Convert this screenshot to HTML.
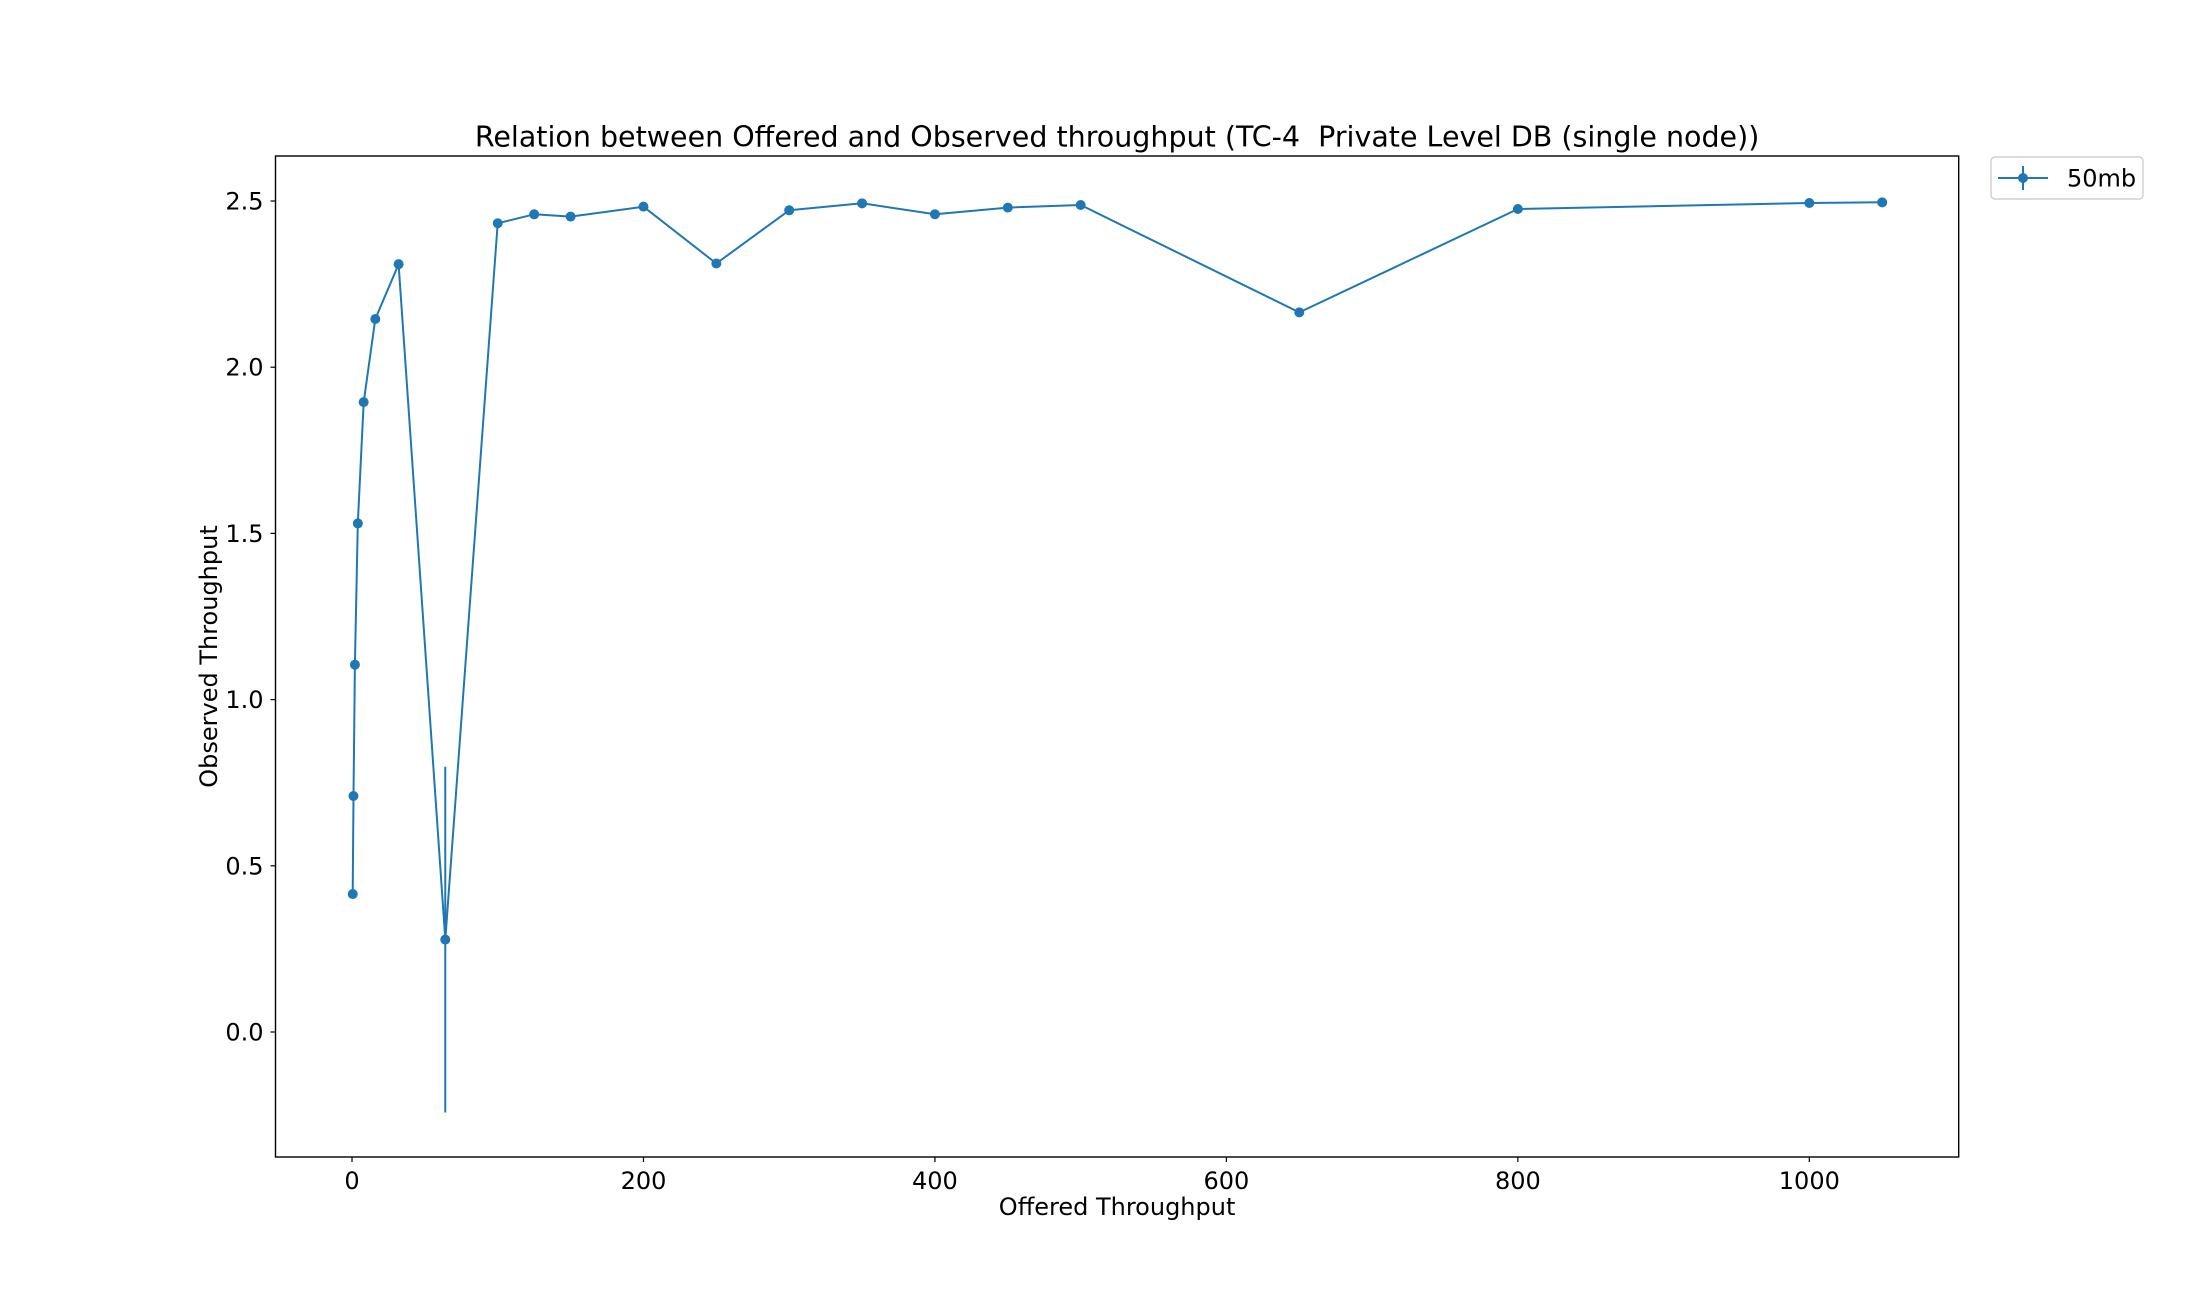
<!DOCTYPE html>
<html><head><meta charset="utf-8"><style>
html,body{margin:0;padding:0;background:#fff;}
svg{display:block;font-family:"DejaVu Sans","Liberation Sans",sans-serif;}
</style></head><body>
<svg id="chart" width="2200" height="1300" viewBox="0 0 2200 1300">
<rect x="0" y="0" width="2200" height="1300" fill="#fff"/>
<g id="plot"></g>
</svg>
<script>
const xValues = [0.5, 1, 2, 4, 8, 16, 32, 64, 100, 125, 150, 200, 250, 300, 350, 400, 450, 500, 650, 800, 1000, 1050];
const yValues = [0.415, 0.71, 1.105, 1.53, 1.895, 2.145, 2.31, 0.278, 2.433, 2.46, 2.453, 2.483, 2.312, 2.472, 2.493, 2.46, 2.48, 2.488, 2.165, 2.476, 2.494, 2.496];
const yErrors = [0, 0, 0, 0, 0, 0, 0, 0.52, 0, 0, 0, 0, 0, 0, 0, 0, 0, 0, 0, 0, 0, 0];
const xTicks = [0, 200, 400, 600, 800, 1000];
const yTicks = [0.0, 0.5, 1.0, 1.5, 2.0, 2.5];
const yTickLabels = ["0.0", "0.5", "1.0", "1.5", "2.0", "2.5"];

const AX = {l: 275.5, r: 1958.7, t: 156, b: 1157};
const XMIN = -52.5, XMAX = 1102.5;
const Y0PX = 1032, Y25PX = 201;
function sx(v){ return AX.l + (v - XMIN) / (XMAX - XMIN) * (AX.r - AX.l); }
function sy(v){ return Y0PX + (Y25PX - Y0PX) * v / 2.5; }

const NS = "http://www.w3.org/2000/svg";
const g = document.getElementById('plot');
function mk(tag, attrs, parent){
  const e = document.createElementNS(NS, tag);
  for (const k in attrs) e.setAttribute(k, attrs[k]);
  (parent || g).appendChild(e);
  return e;
}
const C = "#1f77b4";

const frame = mk('rect', {x: AX.l, y: AX.t, width: AX.r - AX.l, height: AX.b - AX.t, fill: 'none', stroke: '#000', 'stroke-width': 1.4});



xTicks.forEach(function(v){
  const x = sx(v);
  const tk = mk('line', {x1: x, x2: x, y1: AX.b, y2: AX.b + 5, stroke: '#000', 'stroke-width': 1.2});
  
  
  const t = mk('text', {x: x, y: AX.b + 32, 'text-anchor': 'middle', 'font-size': 24, fill: '#000'});
  t.textContent = String(v);
  
  
});
yTicks.forEach(function(v, i){
  const y = sy(v);
  const tk = mk('line', {x1: AX.l - 5, x2: AX.l, y1: y, y2: y, stroke: '#000', 'stroke-width': 1.2});
  
  
  const t = mk('text', {x: AX.l - 12, y: y + 8.5, 'text-anchor': 'end', 'font-size': 24, fill: '#000'});
  t.textContent = yTickLabels[i];
  
  
});

yErrors.forEach(function(e, i){
  if (e > 0) {
    const x = sx(xValues[i]);
    const eb = mk('line', {x1: x, x2: x, y1: sy(yValues[i] + e), y2: sy(yValues[i] - e), stroke: C, 'stroke-width': 2});
    
    
  }
});
const pts = xValues.map(function(v, i){ return sx(v).toFixed(1) + ',' + sy(yValues[i]).toFixed(1); }).join(' ');
const ln = mk('polyline', {points: pts, fill: 'none', stroke: C, 'stroke-width': 2, 'stroke-linejoin': 'round'});


xValues.forEach(function(v, i){
  const c = mk('circle', {cx: sx(v), cy: sy(yValues[i]), r: 5, fill: C});
  
  
});

const title = mk('text', {x: (AX.l + AX.r) / 2, y: 146.5, 'text-anchor': 'middle', 'font-size': 28.5, fill: '#000'});
title.textContent = 'Relation between Offered and Observed throughput (TC-4  Private Level DB (single node))';
title.setAttribute('xml:space', 'preserve');
title.style.whiteSpace = 'pre';



const xl = mk('text', {x: (AX.l + AX.r) / 2, y: 1215, 'text-anchor': 'middle', 'font-size': 24, fill: '#000'});
xl.textContent = 'Offered Throughput';



const yl = mk('text', {x: 0, y: 0, 'text-anchor': 'middle', 'font-size': 24, fill: '#000', transform: 'translate(217,' + ((AX.t + AX.b) / 2) + ') rotate(-90)'});
yl.textContent = 'Observed Throughput';



const lg = mk('g', {});


mk('rect', {x: 1991, y: 157, width: 152, height: 42, rx: 4, fill: '#fff', stroke: '#d0d0d0', 'stroke-width': 1.4}, lg);
mk('line', {x1: 1998, x2: 2048, y1: 178, y2: 178, stroke: C, 'stroke-width': 2}, lg);
mk('line', {x1: 2023, x2: 2023, y1: 166, y2: 190, stroke: C, 'stroke-width': 2}, lg);
mk('circle', {cx: 2023, cy: 178, r: 5, fill: C}, lg);
const lt = mk('text', {x: 2067, y: 186.5, 'font-size': 24, fill: '#000'}, lg);
lt.textContent = '50mb';


</script>
</body></html>
